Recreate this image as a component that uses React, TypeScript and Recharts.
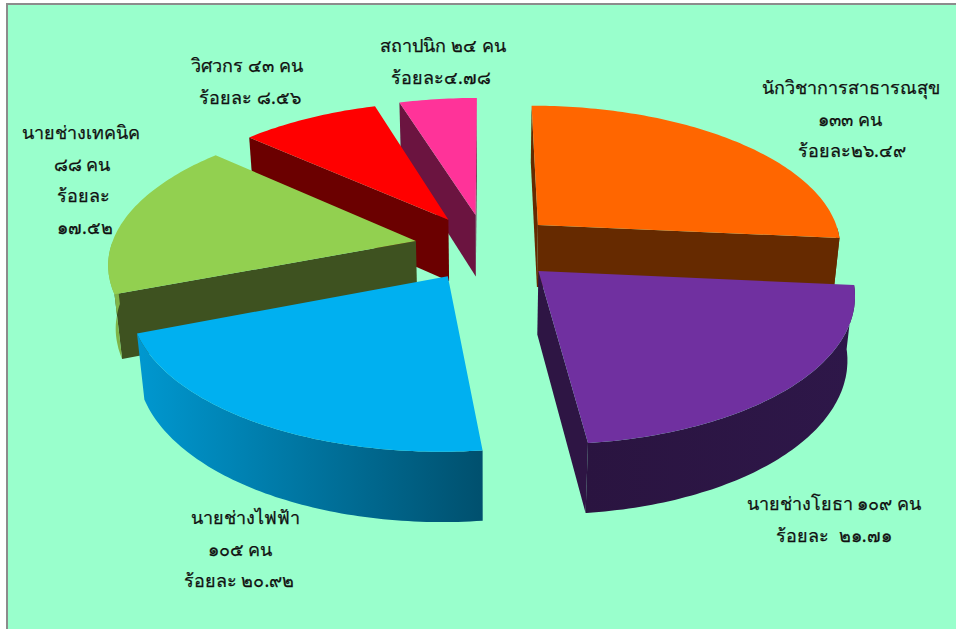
import { PieChart, Pie } from 'recharts';

// head count per occupation, clockwise from 12 o'clock in the reference
const names = ['orange', 'purple', 'blue', 'green', 'red', 'pink'];
const counts = [133, 109, 105, 88, 43, 24];

const topColors = ['#FF6600', '#7030A0', '#00B0F0', '#92D050', '#FF0000', '#FF3399'];
const cutColors = ['#662A00', '#2E1544', '#005A7A', '#3E5220', '#6B0000', '#6B1440'];
const wallFrom = ['#662A00', '#2A1440', '#0098D0', '#7FB448', '#6B0000', '#6B1440'];
const wallTo = ['#662A00', '#2E1749', '#00506E', '#7FB448', '#6B0000', '#6B1440'];

const labelLines = [
  ['นักวิชาการสาธารณสุข', '๑๓๓ คน', 'ร้อยละ๒๖.๔๙'],
  ['นายช่างโยธา ๑๐๙ คน', 'ร้อยละ  ๒๑.๗๑'],
  ['นายช่างไฟฟ้า', '๑๐๕ คน', 'ร้อยละ ๒๐.๙๒'],
  ['นายช่างเทคนิค', '๘๘ คน', 'ร้อยละ', '๑๗.๕๒'],
  ['วิศวกร ๔๓ คน', 'ร้อยละ ๘.๕๖'],
  ['สถาปนิก ๒๔ คน', 'ร้อยละ๔.๗๘'],
];
const labelX = [
  [851, 850, 852],
  [834, 834],
  [245, 240, 239],
  [81, 82, 83, 85],
  [247, 250],
  [443, 441],
];
const labelY = [94, 510, 524, 139, 72, 52];

// reversed so the painter's order runs back to front when the pie goes counter-clockwise
const rows = names
  .map((name, i) => ({ name, value: counts[i], idx: i }))
  .reverse();

const EXPLODE = 0.235;
const DEPTH = 64;
const TILT = 0.465;
const PERSP = 0.14;
const DROP = 0.02;
const rad = (d: number) => (d * Math.PI) / 180;

function project(cx: number, cy: number, R: number, X: number, Y: number, Z: number) {
  const s = 1 / (1 + PERSP * Y + DROP * Z);
  return [cx + R * X * s, cy - R * TILT * Y * s + DEPTH * Z * s];
}

const fmt = (pts: number[][]) =>
  pts.map((p, i) => `${i ? 'L' : 'M'}${p[0].toFixed(1)},${p[1].toFixed(1)}`).join(' ') + ' Z';

const area = (pts: number[][]) =>
  pts.reduce((a, p, i) => {
    const q = pts[(i + 1) % pts.length];
    return a + p[0] * q[1] - q[0] * p[1];
  }, 0);

function Slice3D(props: any) {
  const { cx, cy, outerRadius: R, startAngle, endAngle, payload } = props;
  const i = payload.idx;
  // recharts angles run counter-clockwise from 3 o'clock, turn them into clockwise from top
  const a0 = 90 - endAngle < 0 ? 450 - endAngle : 90 - endAngle;
  const a1 = a0 + Math.abs(endAngle - startAngle);
  const mid = (a0 + a1) / 2;
  const ox = EXPLODE * Math.sin(rad(mid));
  const oy = EXPLODE * Math.cos(rad(mid));
  const at = (deg: number, r: number, Z: number) =>
    project(cx, cy, R, ox + r * Math.sin(rad(deg)), oy + r * Math.cos(rad(deg)), Z);

  const rim: number[] = [];
  for (let d = a0; d < a1; d += 1) rim.push(d);
  rim.push(a1);

  const top = [at(a0, 0, 0), ...rim.map((d) => at(d, 1, 0))];
  const startCut = [at(a0, 0, 0), at(a0, 1, 0), at(a0, 1, 1), at(a0, 0, 1)];
  const endCut = [at(a1, 0, 0), at(a1, 1, 0), at(a1, 1, 1), at(a1, 0, 1)];

  const w0 = Math.max(a0, 90);
  const w1 = Math.min(a1, 270);
  let wall: number[][] = [];
  if (w1 > w0) {
    const seen = rim.filter((d) => d >= w0 && d <= w1);
    wall = [...seen.map((d) => at(d, 1, 0)), ...seen.slice().reverse().map((d) => at(d, 1, 1))];
  }
  const xs = wall.map((p) => p[0]);
  const gid = `wall-${i}`;

  return (
    <g>
      {area(startCut) < 0 && <path d={fmt(startCut)} fill={cutColors[i]} />}
      {area(endCut) > 0 && <path d={fmt(endCut)} fill={cutColors[i]} />}
      {wall.length > 0 && (
        <>
          <linearGradient
            id={gid}
            gradientUnits="userSpaceOnUse"
            x1={Math.min(...xs)}
            x2={Math.max(...xs)}
            y1={0}
            y2={0}
          >
            <stop offset="0%" stopColor={wallFrom[i]} />
            <stop offset="100%" stopColor={wallTo[i]} />
          </linearGradient>
          <path d={fmt(wall)} fill={`url(#${gid})`} />
        </>
      )}
      <path d={fmt(top)} fill={topColors[i]} />
    </g>
  );
}

const backShape = (props: any) => (['blue', 'purple'].includes(props.payload.name) ? <g /> : <Slice3D {...props} />);
const frontShape = (props: any) => (['blue', 'purple'].includes(props.payload.name) ? <Slice3D {...props} /> : <g />);

export default function App() {
  const pieProps = {
    data: rows,
    dataKey: 'value',
    nameKey: 'name',
    cx: 486,
    cy: 247,
    innerRadius: 0,
    outerRadius: 305,
    startAngle: 90,
    endAngle: 450,
    paddingAngle: 0,
    stroke: 'none',
    isAnimationActive: false,
  };
  return (
    <div style={{ position: 'absolute', left: 0, top: 0, width: 956, height: 629, overflow: 'hidden', background: '#fff' }}>
      <div
        style={{
          position: 'absolute',
          left: 6,
          top: 3,
          width: 950,
          height: 626,
          boxSizing: 'border-box',
          background: '#99FFCC',
          borderLeft: '2px solid #8C8C8C',
          borderTop: '2px solid #8C8C8C',
        }}
      />
      <div style={{ position: 'absolute', left: 0, top: 0 }}>
        <PieChart width={956} height={629} margin={{ top: 0, right: 0, bottom: 0, left: 0 }}>
          <Pie {...pieProps} shape={backShape} />
          <Pie {...pieProps} shape={frontShape} />
          {labelLines.map((lines, i) => (
            <text
              key={names[i]}
              textAnchor="middle"
              fontFamily="'Noto Sans', 'DejaVu Sans', sans-serif"
              fontSize={18}
              fill="#111"
              stroke="#111"
              strokeWidth={0.25}
            >
              {lines.map((line, j) => (
                <tspan key={j} x={labelX[i][j]} y={labelY[i] + j * 31.5} xmlSpace="preserve">
                  {line}
                </tspan>
              ))}
            </text>
          ))}
        </PieChart>
      </div>
    </div>
  );
}
